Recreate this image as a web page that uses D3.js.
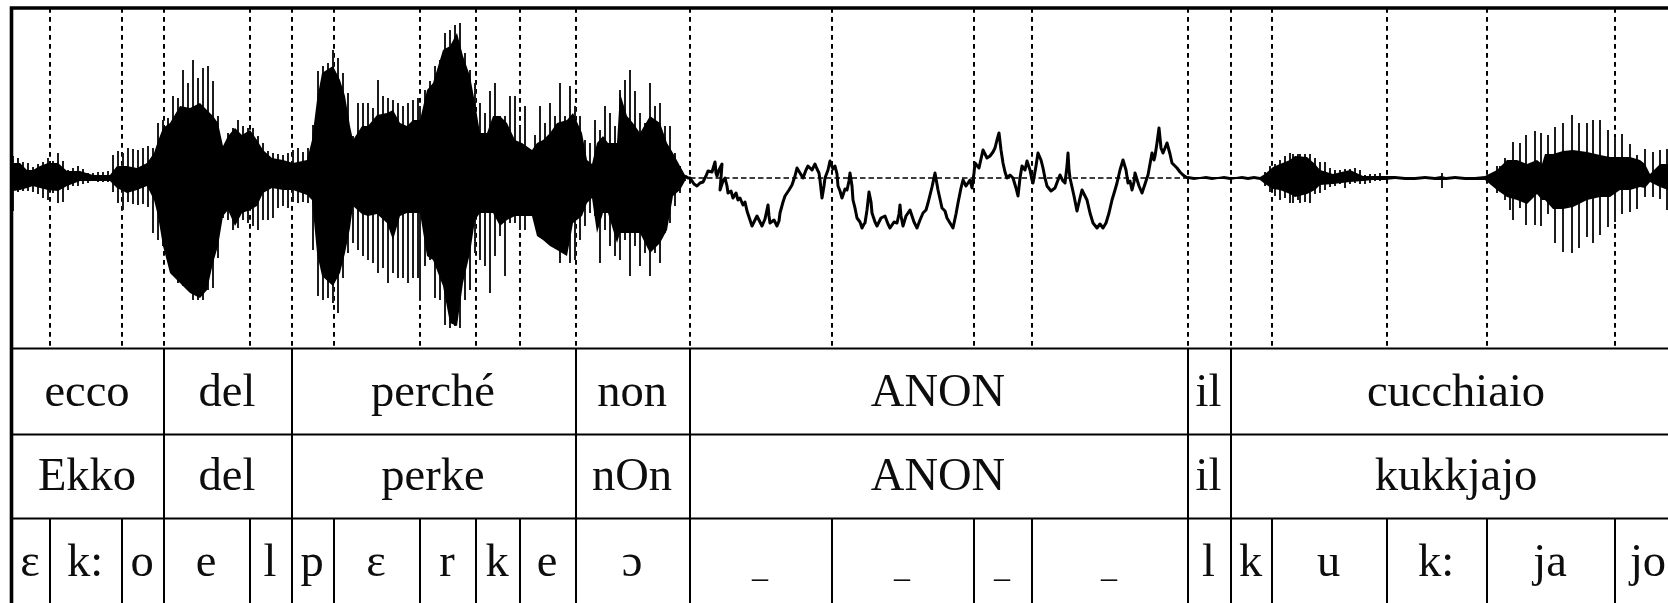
<!DOCTYPE html>
<html>
<head>
<meta charset="utf-8">
<style>
  html, body { margin: 0; padding: 0; background: #fff; }
  svg { display: block; }
  text { font-family: "Liberation Serif", serif; fill: #0a0a0a; }
</style>
</head>
<body>
<div id="chart"></div>
<script src="https://cdn.jsdelivr.net/npm/d3@7"></script>
<script>
// annotation tiers, time boundaries are in the same units as the waveform
const words = ["ecco", "del", "perché", "non", "ANON", "il", "cucchiaio"]
const wordEdges = [12, 164, 292, 576, 690, 1188, 1231, 1683]
const lemmas = ["Ekko", "del", "perke", "nOn", "ANON", "il", "kukkjajo"]
const phones = ["ɛ", "k:", "o", "e", "l", "p", "ɛ", "r", "k", "e", "ɔ", "_", "_", "_", "_", "l", "k", "u", "k:", "ja", "jo"]
const phoneEdges = [12, 50, 122, 164, 250, 292, 334, 420, 476, 520, 576, 690, 832, 974, 1032, 1188, 1231, 1272, 1387, 1487, 1615, 1683]

// peaks of the waveform
const spikeT = [13,18,23,28,33,38,43,48,53,58,63,68,73,78,83,88,93,98,103,108,113,118,123,128,133,138,143,148,153,158,163,168,173,178,183,188,193,198,203,208,213,218,223,228,233,238,243,248,253,258,263,268,273,278,283,288,293,298,303,308,313,318,323,328,333,338,343,348,353,358,363,368,373,378,383,388,393,398,403,408,413,418,420,425,430,435,440,445,450,455,460,465,470,475,480,485,490,495,500,505,510,515,520,525,530,535,540,545,550,555,560,565,570,575,580,585,590,595,600,605,610,615,620,625,630,635,640,645,650,655,660,665,670,675,680,685,
  1265,1270,1275,1280,1285,1290,1293,1298,1300,1305,1310,1315,1320,1325,1330,1335,1340,1345,1350,1355,1360,1365,1370,1375,1380,1442,1493,1497,1500,1505,1510,1513,1520,1526,1535,1541,1548,1555,1563,1572,1579,1587,1593,1600,1608,1615,1622,1630,1637,1645,1653,1660,1667]
const spikeUp = [22,20,16,15,11,14,16,20,17,25,17,8,10,12,9,5,5,6,6,7,23,27,25,30,29,28,30,32,30,55,58,60,82,80,108,95,118,100,110,112,97,62,28,45,50,58,52,50,50,42,35,27,25,24,23,25,28,30,26,30,53,107,112,115,128,120,105,85,42,75,75,75,70,98,82,80,78,75,72,75,78,80,72,88,97,112,118,145,148,153,155,125,108,95,75,65,87,95,62,62,82,82,52,72,28,43,72,55,75,62,95,62,92,72,62,38,35,58,48,72,65,52,88,98,108,87,65,55,95,72,75,52,52,25,12,3,
  6,12,14,18,22,25,24,24,24,24,24,20,16,16,10,8,8,9,9,10,8,3,4,4,5,5,5,12,12,20,18,36,35,43,47,45,43,51,55,63,55,55,58,58,48,41,44,34,23,29,26,28,29]
const spikeDown = [33,14,13,13,14,16,20,22,15,25,24,12,8,8,6,5,3,4,4,4,14,25,32,24,26,27,26,29,55,62,68,78,97,105,108,112,122,122,122,112,110,80,40,42,52,50,42,45,48,52,42,42,40,30,28,30,24,25,24,25,72,118,122,120,125,135,100,75,65,72,78,82,85,95,90,105,95,100,100,105,100,100,122,88,82,120,122,147,150,148,150,122,112,75,82,88,115,78,58,98,45,45,52,52,38,38,58,62,55,62,85,62,85,82,62,48,35,38,85,52,68,78,82,62,98,68,88,75,98,75,85,55,45,28,15,3,
  8,14,18,22,20,25,25,22,25,24,25,16,15,12,9,8,6,10,6,5,6,6,5,3,3,10,6,15,12,22,32,42,30,47,47,48,36,65,74,75,70,59,65,57,49,44,36,34,31,19,19,21,32]

// solid part of the waveform, voiced stretch before the anonymised part
const coreT = [13,20,27,33,40,48,58,67,80,93,110,117,127,137,147,154,158,163,170,180,190,200,207,213,218,223,228,235,242,250,257,263,272,283,293,307,312,317,322,333,340,345,350,353,362,368,377,387,393,400,407,413,420,427,433,443,450,457,463,470,475,480,487,493,500,507,515,522,532,537,543,550,557,567,573,582,587,592,597,603,608,617,620,627,633,640,650,660,667,673,680,685]
const coreUp = [15,15,8,8,12,15,15,7,7,3,3,12,12,10,15,25,37,50,55,72,70,75,68,62,55,32,42,50,43,48,38,28,20,18,15,18,38,78,105,112,98,82,52,38,52,52,63,65,68,55,52,58,58,88,95,128,132,145,122,102,75,45,45,62,62,55,38,35,28,35,38,45,55,58,65,45,18,14,35,42,35,35,85,62,55,45,62,55,35,25,12,3]
const coreDown = [13,12,10,8,10,12,13,8,3,3,3,10,15,12,8,22,38,68,95,105,115,120,112,85,68,38,32,48,35,32,28,15,10,12,12,17,22,75,98,108,95,75,50,28,36,38,36,45,62,38,35,35,35,78,82,108,145,148,105,75,42,35,35,35,48,42,38,38,38,58,62,68,72,78,45,38,25,20,55,35,35,65,55,55,55,55,75,65,52,18,12,3]

// same for the stretch after it
const coreT2 = [1188,1194,1200,1206,1212,1218,1224,1230,1236,1242,1248,1254,1260,1265,1273,1280,1290,1295,1307,1315,1320,1333,1350,1363,1373,1385,1395,1405,1415,1425,1435,1441,1446,1455,1465,1475,1485,1497,1507,1517,1527,1537,1542,1545,1553,1563,1573,1587,1600,1610,1620,1630,1640,1645,1650,1660,1668]
const coreUp2 = [2,1,1,2,1,1,2,1,1,2,1,2,1,4,11,14,18,22,21,14,8,4,8,2,2,2,2,1,1,2,1,2,1,2,1,1,2,8,18,18,14,18,14,24,24,27,28,26,23,21,21,21,18,14,4,14,14]
const coreDown2 = [1,2,1,1,2,1,1,2,1,1,2,1,2,6,11,12,16,19,16,12,7,6,4,3,2,2,1,2,2,1,2,2,2,1,2,2,2,12,19,22,26,16,22,22,31,31,29,22,19,19,12,12,9,10,4,9,12]

// the low frequency stretch under the anonymised part
const traceT = [685,688,690,694,697,700,703,706,708,712,715,716,717,719,722,721,720,723,725,727,728,731,733,736,738,740,743,745,747,750,752,755,757,760,762,765,768,769,770,774,777,779,780,783,785,789,792,795,797,800,803,806,808,812,815,817,819,820,822,824,825,828,830,833,835,837,838,840,842,845,847,849,850,852,853,855,857,860,862,864,865,867,869,871,872,875,877,881,885,888,890,894,897,899,900,901,903,906,910,914,917,920,923,926,928,932,935,938,942,945,947,950,953,956,958,961,963,966,968,970,972,974,975,979,983,987,990,993,995,997,999,1001,1003,1005,1007,1010,1013,1016,1018,1020,1022,1025,1027,1030,1032,1033,1036,1038,1041,1043,1045,1047,1051,1055,1058,1060,1063,1065,1067,1068,1069,1070,1074,1077,1080,1082,1085,1087,1090,1093,1097,1100,1103,1106,1109,1112,1115,1117,1120,1123,1126,1128,1130,1132,1134,1135,1139,1142,1145,1148,1150,1152,1154,1155,1157,1159,1161,1163,1165,1167,1170,1172,1175,1177,1180,1183,1186,1188]
const traceAmp = [2,0,0,-6,-8,-5,-4,2,7,6,16,5,2,8,14,0,-12,-3,0,-8,-15,-13,-20,-15,-22,-20,-27,-24,-33,-42,-48,-42,-38,-44,-48,-41,-27,-38,-45,-42,-48,-43,-35,-24,-18,-12,-7,2,10,5,0,8,12,8,14,9,5,-2,-20,-8,0,8,17,9,12,4,-8,-13,-20,-11,-12,-3,5,-8,-22,-30,-40,-44,-50,-46,-45,-32,-14,-24,-35,-44,-48,-40,-38,-46,-50,-44,-45,-36,-27,-38,-48,-38,-32,-44,-50,-42,-35,-32,-25,-9,5,-12,-30,-33,-40,-45,-50,-36,-25,-10,-2,-8,-5,-2,-10,5,15,10,28,20,22,26,30,38,45,28,15,6,0,3,0,-10,-18,0,12,8,17,8,-2,-5,12,25,18,10,0,-8,-13,-10,-2,3,-3,-5,12,25,8,0,-18,-33,-20,-12,-18,-22,-35,-45,-50,-46,-50,-45,-35,-22,-12,-5,8,18,8,-5,-3,-12,-4,5,-8,-15,-6,3,14,25,18,22,35,50,30,25,30,35,24,15,12,10,6,3,1,0]

const width = 1668, height = 603
const frameTop = 8, tierTop = 348.5, tierLines = [434.5, 518.5]

const xScale = d3.scaleLinear().domain([12, 1683]).range([12, 1683])
const yScale = d3.scaleLinear().domain([-170, 170]).range([348, frameTop])

const svg = d3.select("#chart").append("svg")
  .attr("width", width)
  .attr("height", height)

// the page is a scan, everything is a little soft
svg.append("filter").attr("id", "soft")
  .append("feGaussianBlur").attr("stdDeviation", 0.5)

const plot = svg.append("g").attr("filter", "url(#soft)")

// dashed boundaries and zero line
plot.append("line")
  .attr("x1", xScale(690)).attr("x2", xScale(1400))
  .attr("y1", yScale(0)).attr("y2", yScale(0))
  .attr("stroke", "#000").attr("stroke-width", 1.7)
  .attr("stroke-dasharray", "5.5,3")

plot.selectAll(".boundary")
  .data(phoneEdges.slice(1, -1))
  .join("line")
  .attr("class", "boundary")
  .attr("x1", d => xScale(d)).attr("x2", d => xScale(d))
  .attr("y1", frameTop).attr("y2", tierTop)
  .attr("stroke", "#000").attr("stroke-width", 2)
  .attr("stroke-dasharray", "4.7,4.3")

// waveform
const peaks = spikeT.map((t, i) => ({ t: t, up: spikeUp[i], down: spikeDown[i] }))
plot.selectAll(".spike")
  .data(peaks)
  .join("line")
  .attr("class", "spike")
  .attr("x1", d => xScale(d.t)).attr("x2", d => xScale(d.t))
  .attr("y1", d => yScale(d.up)).attr("y2", d => yScale(-d.down))
  .attr("stroke", "#1a1a1a").attr("stroke-width", 2)

const coreArea = d3.area()
  .x(d => xScale(d.t))
  .y0(d => yScale(-d.down))
  .y1(d => yScale(d.up))

const core1 = coreT.map((t, i) => ({ t: t, up: coreUp[i], down: coreDown[i] }))
const core2 = coreT2.map((t, i) => ({ t: t, up: coreUp2[i], down: coreDown2[i] }))
plot.selectAll(".core")
  .data([core1, core2])
  .join("path")
  .attr("class", "core")
  .attr("d", coreArea)
  .attr("fill", "#000")

const traceLine = d3.line()
  .x((d, i) => xScale(traceT[i]))
  .y(d => yScale(d))
plot.append("path")
  .attr("d", traceLine(traceAmp))
  .attr("fill", "none")
  .attr("stroke", "#000")
  .attr("stroke-width", 3)
  .attr("stroke-linejoin", "round")

// frame and tier lines
plot.append("path")
  .attr("d", `M${xScale(11.5)},${height}V${frameTop}H${width}`)
  .attr("fill", "none").attr("stroke", "#000").attr("stroke-width", 3.6)

plot.selectAll(".rule")
  .data([tierTop].concat(tierLines))
  .join("line")
  .attr("class", "rule")
  .attr("x1", 12).attr("x2", width)
  .attr("y1", d => d).attr("y2", d => d)
  .attr("stroke", "#000").attr("stroke-width", 2)

plot.selectAll(".wordEdge")
  .data(wordEdges.slice(1, -1))
  .join("line")
  .attr("class", "wordEdge")
  .attr("x1", d => xScale(d)).attr("x2", d => xScale(d))
  .attr("y1", tierTop).attr("y2", height)
  .attr("stroke", "#000").attr("stroke-width", 2)

plot.selectAll(".phoneEdge")
  .data(phoneEdges.slice(1, -1))
  .join("line")
  .attr("class", "phoneEdge")
  .attr("x1", d => xScale(d)).attr("x2", d => xScale(d))
  .attr("y1", tierLines[1]).attr("y2", height)
  .attr("stroke", "#000").attr("stroke-width", 2)

// tier labels
function tier(labels, edges, baseline) {
  svg.append("g").attr("filter", "url(#soft)").selectAll("text")
    .data(labels)
    .join("text")
    .attr("x", (d, i) => xScale((edges[i] + edges[i + 1]) / 2) - 1)
    .attr("y", d => d === "_" ? baseline + 1 : baseline)
    .attr("text-anchor", "middle")
    .attr("font-size", d => d === "_" ? 32 : 46.5)
    .text(d => d)
}
tier(words, wordEdges, 405.5)
tier(lemmas, wordEdges, 489.5)
tier(phones, phoneEdges, 575.5)
</script>
</body>
</html>
